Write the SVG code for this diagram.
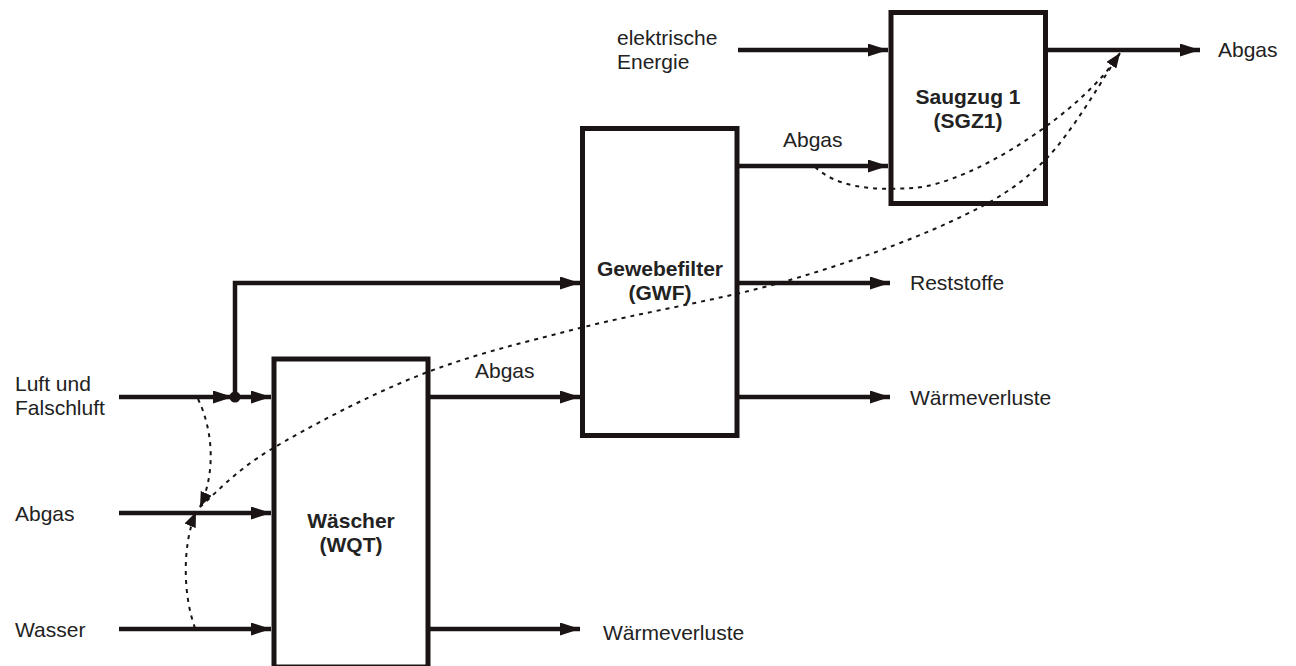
<svg xmlns="http://www.w3.org/2000/svg" width="1296" height="666" viewBox="0 0 1296 666">
<style>
text{font-family:"Liberation Sans",Arial,sans-serif;font-size:21px;fill:#222}
.b{font-weight:bold;text-anchor:middle}
.box{fill:none;stroke:#1a1414;stroke-width:5}
.ln{fill:none;stroke:#1a1414;stroke-width:4.5;marker-end:url(#ah)}
.dt{fill:none;stroke:#1a1414;stroke-width:2;stroke-dasharray:4 5}
</style>
<defs>
<marker id="ah" markerUnits="userSpaceOnUse" markerWidth="22" markerHeight="14" refX="20" refY="6.5" orient="auto">
<path d="M0,0 L20,6.5 L0,13 z" fill="#1a1414"/>
</marker>
<marker id="dh" markerUnits="userSpaceOnUse" markerWidth="16" markerHeight="12" refX="15" refY="6" orient="auto">
<path d="M0,0 L15,6 L0,12 z" fill="#1a1414"/>
</marker>
</defs>
<rect width="1296" height="666" fill="#fff"/>
<g id="waescher">
<rect class="box" x="274" y="359" width="154" height="308"/>
<text class="b" x="351" y="528">Wäscher</text>
<text class="b" x="351" y="552">(WQT)</text>
</g>
<g id="gewebefilter">
<rect class="box" x="582.5" y="128.5" width="154.5" height="307"/>
<text class="b" x="660" y="276">Gewebefilter</text>
<text class="b" x="660" y="300">(GWF)</text>
</g>
<g id="saugzug">
<rect class="box" x="891" y="12.5" width="154.5" height="191"/>
<text class="b" x="968" y="104">Saugzug 1</text>
<text class="b" x="968" y="128">(SGZ1)</text>
</g>
<g id="connectors">
<path class="ln" d="M119,397 H233"/>
<path class="ln" d="M235,397 H271"/>
<path class="ln" d="M235,397 V283 H580"/>
<path class="ln" d="M119,513 H271"/>
<path class="ln" d="M119,629 H271"/>
<path class="ln" d="M428,397 H580"/>
<path class="ln" d="M428,629 H580"/>
<path class="ln" d="M737,166 H888"/>
<path class="ln" d="M737,283 H890"/>
<path class="ln" d="M737,397 H890"/>
<path class="ln" d="M738,50 H888"/>
<path class="ln" d="M1045,50 H1200"/>
<circle cx="235" cy="397" r="5.5" fill="#1a1414"/>
<path class="dt" d="M198,399 C213,430 216,472 200,507" marker-end="url(#dh)"/>
<path class="dt" d="M195,628 C183,595 182,545 196,512" marker-end="url(#dh)"/>
<path class="dt" d="M200,507 C211.7,497.5 233.3,472 270,450 C306.7,428 368.3,395.3 420,375 C471.7,354.7 519.5,343.5 580,328 C640.5,312.5 721.3,299.7 783,282 C844.7,264.3 906.3,242.3 950,222 C993.7,201.7 1016.7,188.2 1045,160 C1073.3,131.8 1107.5,70.8 1120,53" marker-end="url(#dh)"/>
<path class="dt" d="M815,167 C840,190 880,190 913,188 C973,184 1085,110 1120,53"/>
</g>
<g id="labels">
<text x="15" y="391">Luft und</text>
<text x="15" y="415">Falschluft</text>
<text x="15" y="521">Abgas</text>
<text x="15" y="637">Wasser</text>
<text x="475" y="378">Abgas</text>
<text x="603" y="640">Wärmeverluste</text>
<text x="783" y="147">Abgas</text>
<text x="910" y="290">Reststoffe</text>
<text x="910" y="405">Wärmeverluste</text>
<text x="617" y="45">elektrische</text>
<text x="617" y="69">Energie</text>
<text x="1218" y="57">Abgas</text>
</g>
</svg>
